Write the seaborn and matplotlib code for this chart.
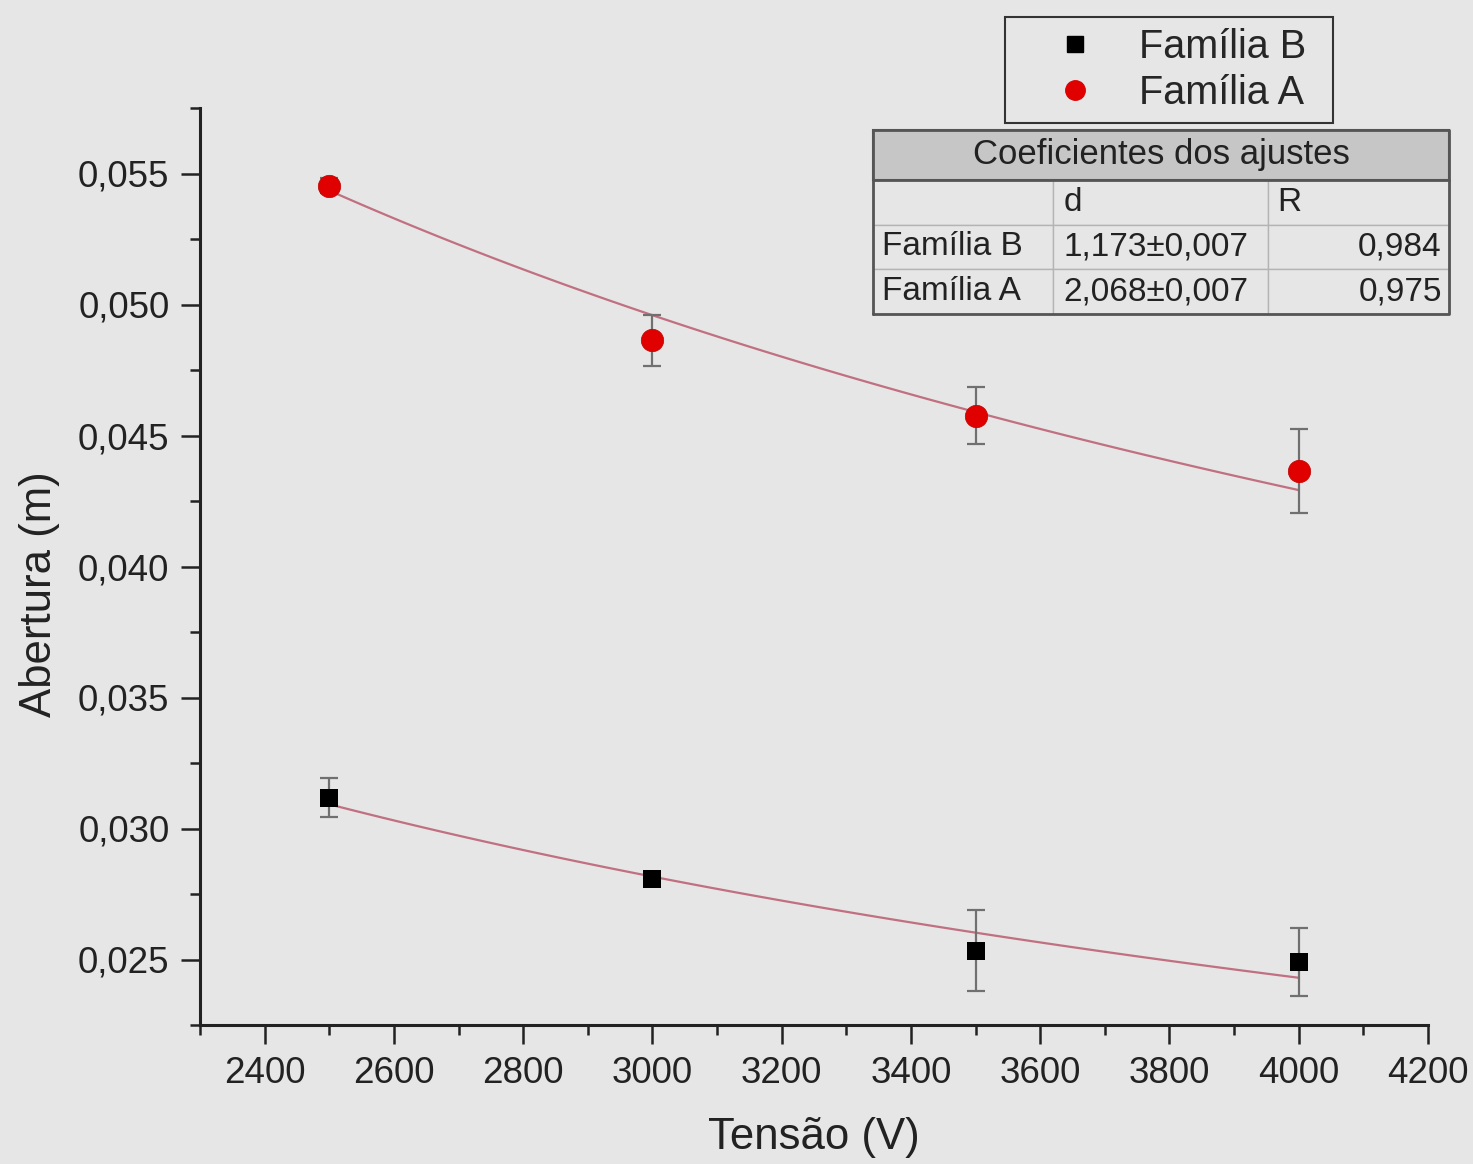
import numpy as np
import pandas as pd
import matplotlib
matplotlib.use("Agg")
import matplotlib.pyplot as plt
from matplotlib.ticker import FuncFormatter, MultipleLocator
from matplotlib.lines import Line2D
import seaborn as sns

## dados
tensao = [2500, 3000, 3500, 4000]
abertura_a = [0.05454, 0.04863, 0.04576, 0.04366]
erro_a = [0.0003, 0.00097, 0.0011, 0.0016]
abertura_b = [0.03118, 0.02809, 0.02534, 0.02489]
erro_b = [0.00073, 0.0002, 0.00155, 0.0013]

## tabela de coeficientes
linhas_tab = ["", "Família B", "Família A"]
coef_d = ["d", "1,173±0,007", "2,068±0,007"]
coef_r = ["R", "0,984", "0,975"]

fundo = "#e6e6e6"
sns.set_theme(style="ticks", rc={"figure.facecolor": fundo, "axes.facecolor": fundo})
plt.rcParams["font.family"] = ["Liberation Sans", "DejaVu Sans"]

df = pd.DataFrame({
    "Tensao": tensao * 2,
    "Abertura": abertura_a + abertura_b,
    "Erro": erro_a + erro_b,
    "Familia": ["Família A"] * 4 + ["Família B"] * 4,
})

fig = plt.figure(figsize=(14.73, 11.64), dpi=100)
ax = fig.add_axes([200 / 1473, 1 - 1025 / 1164, 1228 / 1473, 917 / 1164])

## ajuste potência (log-log) a partir dos pontos
x_fit = np.linspace(min(tensao), max(tensao), 100)
for fam in ["Família A", "Família B"]:
    sub = df[df.Familia == fam]
    lx = np.log(sub.Tensao.values)
    ly = np.log(sub.Abertura.values)
    w = sub.Abertura.values / sub.Erro.values
    p = np.polyfit(lx, ly, 1, w=np.sqrt(w))
    sns.lineplot(x=x_fit, y=np.exp(np.polyval(p, np.log(x_fit))), ax=ax,
                 color="#c07080", lw=1.6, zorder=2)

## barras de erro
ax.errorbar(df.Tensao, df.Abertura, yerr=df.Erro, fmt="none", ecolor="#707070",
            elinewidth=1.6, capsize=6.5, capthick=1.6, zorder=3)

sns.scatterplot(data=df[df.Familia == "Família A"], x="Tensao", y="Abertura", ax=ax,
                marker="o", s=260, color="#e00000", edgecolor="#c00000", linewidth=0.5, zorder=4)
sns.scatterplot(data=df[df.Familia == "Família B"], x="Tensao", y="Abertura", ax=ax,
                marker="s", s=175, color="black", linewidth=0, zorder=4)

ax.set_xlim(2300, 4200)
ax.set_ylim(0.0225, 0.0575)
ax.xaxis.set_major_locator(MultipleLocator(200))
ax.xaxis.set_minor_locator(MultipleLocator(100))
ax.yaxis.set_major_locator(MultipleLocator(0.005))
ax.yaxis.set_minor_locator(MultipleLocator(0.0025))
ax.yaxis.set_major_formatter(FuncFormatter(lambda v, pos: f"{v:.3f}".replace(".", ",")))
ax.xaxis.set_major_formatter(FuncFormatter(lambda v, pos: f"{v:.0f}"))

sns.despine(ax=ax)
for s in ["left", "bottom"]:
    ax.spines[s].set_linewidth(2.2)
    ax.spines[s].set_color("#222222")
ax.tick_params(which="major", direction="out", length=14, width=1.8, labelsize=26.5,
               pad=8, color="#222222", labelcolor="#222222")
ax.tick_params(which="minor", direction="out", length=7, width=1.8, color="#222222")

ax.set_xlabel("Tensão (V)", fontsize=31.5, color="#222222", labelpad=19)
ax.set_ylabel("Abertura (m)", fontsize=31.5, color="#222222", labelpad=13)
ax.yaxis.label.set_y(0.47)

## legenda
handles = [
    Line2D([], [], marker="s", ls="none", color="black", markersize=12),
    Line2D([], [], marker="o", ls="none", color="#e00000", markersize=14),
]
leg = fig.legend(handles, ["Família B", "Família A"], loc="upper left",
                 bbox_to_anchor=(1005 / 1473, 1 - 120 / 1164, 328 / 1473, 103 / 1164),
                 mode="expand", fontsize=28.5,
                 frameon=True, fancybox=False, facecolor=fundo, edgecolor="#333333",
                 framealpha=1, handlelength=3.0, handletextpad=0.1, borderpad=0.28,
                 labelspacing=0.2, borderaxespad=0)
leg.get_frame().set_linewidth(1.5)

## tabela
tax = fig.add_axes([873 / 1473, 1 - 314 / 1164, 576 / 1473, 184 / 1164])
tax.axis("off")
tax.set_xlim(0, 1)
tax.set_ylim(0, 1)
larg = [180 / 576, 215 / 576, 181 / 576]
titulo = tax.table(cellText=[["Coeficientes dos ajustes"]], cellLoc="center",
                   bbox=[0, 134 / 184, 1, 50 / 184])
titulo.auto_set_font_size(False)
c = titulo[0, 0]
c.set_facecolor("#c6c6c6")
c.set_edgecolor("#555555")
c.set_linewidth(1.5)
c.get_text().set_fontsize(25)
c.get_text().set_color("#222222")

corpo = tax.table(cellText=[[linhas_tab[i], coef_d[i], coef_r[i]] for i in range(3)],
                  cellLoc="left", colWidths=larg, bbox=[0, 0, 1, 134 / 184])
corpo.auto_set_font_size(False)
for (i, j), cell in corpo.get_celld().items():
    cell.set_facecolor(fundo)
    cell.set_edgecolor("#b4b4b4")
    cell.set_linewidth(1.0)
    cell.PAD = 0.05
    cell.get_text().set_fontsize(24)
    cell.get_text().set_color("#222222")
    if j == 2 and i > 0:
        cell.get_text().set_horizontalalignment("right")
        cell.PAD = 0.04
tax.plot([0, 1, 1, 0, 0], [0, 0, 1, 1, 0], color="#555555", lw=2, clip_on=False)
tax.plot([0, 1], [134 / 184, 134 / 184], color="#555555", lw=2, clip_on=False)

fig.savefig("out.png", dpi=100, facecolor=fundo)
